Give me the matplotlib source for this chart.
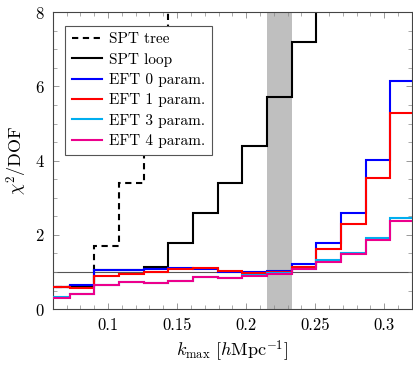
import numpy as np
import matplotlib
matplotlib.use('Agg')
import matplotlib.pyplot as plt
from matplotlib.ticker import MultipleLocator, FixedLocator

plt.rcParams['font.family'] = 'cmr10'
plt.rcParams['mathtext.fontset'] = 'cm'
plt.rcParams['axes.formatter.use_mathtext'] = True

# bin edges in k_max [h/Mpc]
edges = [0.0542, 0.0721, 0.0900, 0.1079, 0.1257, 0.1436, 0.1615, 0.1793,
         0.1972, 0.2151, 0.2330, 0.2508, 0.2687, 0.2866, 0.3044, 0.3223]

spt_tree = [0.60, 0.63, 1.71, 3.39, 5.80, 9.50]
spt_loop = [0.60, 0.63, 1.05, 1.06, 1.14, 1.78, 2.58, 3.41, 4.40, 5.71, 7.19, 9.00]
eft0 = [0.60, 0.65, 1.05, 1.05, 1.09, 1.11, 1.08, 1.01, 1.00, 1.04, 1.21, 1.77, 2.58, 4.01, 6.15]
eft1 = [0.59, 0.56, 0.89, 0.95, 1.00, 1.07, 1.10, 1.03, 0.98, 0.99, 1.13, 1.62, 2.30, 3.52, 5.27]
eft3 = [0.33, 0.42, 0.65, 0.73, 0.71, 0.76, 0.87, 0.84, 0.91, 0.96, 1.09, 1.33, 1.52, 1.92, 2.46]
eft4 = [0.31, 0.42, 0.64, 0.72, 0.70, 0.76, 0.86, 0.83, 0.90, 0.95, 1.07, 1.28, 1.49, 1.87, 2.37]

band = (0.2151, 0.2330)

fig = plt.figure(figsize=(4.13, 3.68), dpi=100)
ax = fig.add_axes([0.128, 0.160, 0.869, 0.807])

ax.axvspan(band[0], band[1], color='#bfbfbf', lw=0, zorder=0)
ax.axhline(1.0, color='#555555', lw=0.8, zorder=1)

lw = 1.5
ax.stairs(spt_tree, edges[:len(spt_tree) + 1], baseline=None, color='black', lw=lw,
          linestyle=(0, (3, 2.2)), label='SPT tree', zorder=2)
ax.stairs(spt_loop, edges[:len(spt_loop) + 1], baseline=None, color='black', lw=lw,
          label='SPT loop', zorder=2)
ax.stairs(eft0, edges, baseline=None, color='#0000ff', lw=lw, label='EFT 0 param.', zorder=3)
ax.stairs(eft1, edges, baseline=None, color='#ff0000', lw=lw, label='EFT 1 param.', zorder=4)
ax.stairs(eft3, edges, baseline=None, color='#00aeef', lw=lw, label='EFT 3 param.', zorder=5)
ax.stairs(eft4, edges, baseline=None, color='#ec008c', lw=lw, label='EFT 4 param.', zorder=6)

ax.set_xlim(0.06, 0.32)
ax.set_ylim(0, 8)

xt = [0.1, 0.15, 0.2, 0.25, 0.3]
ax.xaxis.set_major_locator(FixedLocator(xt))
ax.set_xticklabels(['0.1', '0.15', '0.2', '0.25', '0.3'])
ax.xaxis.set_minor_locator(MultipleLocator(0.01))
ax.yaxis.set_major_locator(MultipleLocator(2))
ax.yaxis.set_minor_locator(MultipleLocator(0.5))
ax.tick_params(which='both', direction='in', top=True, right=True,
               color='#888888', labelsize=12)
ax.tick_params(which='major', length=4, width=0.6, pad=6)
ax.tick_params(which='minor', length=3, width=0.5)
for s in ax.spines.values():
    s.set_color('#444444')
    s.set_linewidth(0.8)

ax.set_xlabel(r'$k_{\max}\ [h\mathrm{Mpc}^{-1}]$', fontsize=13, labelpad=4)
ax.set_ylabel(r'$\chi^2$/DOF', fontsize=13, labelpad=4)

leg = ax.legend(loc='upper left', bbox_to_anchor=(0.033, 0.955), fontsize=11,
                fancybox=False, framealpha=1, edgecolor='#555555',
                handlelength=2.0, handletextpad=0.45, labelspacing=0.42,
                borderpad=0.45, borderaxespad=0)
leg.get_frame().set_linewidth(0.8)
leg.set_zorder(10)

fig.savefig('out.png', dpi=100)
